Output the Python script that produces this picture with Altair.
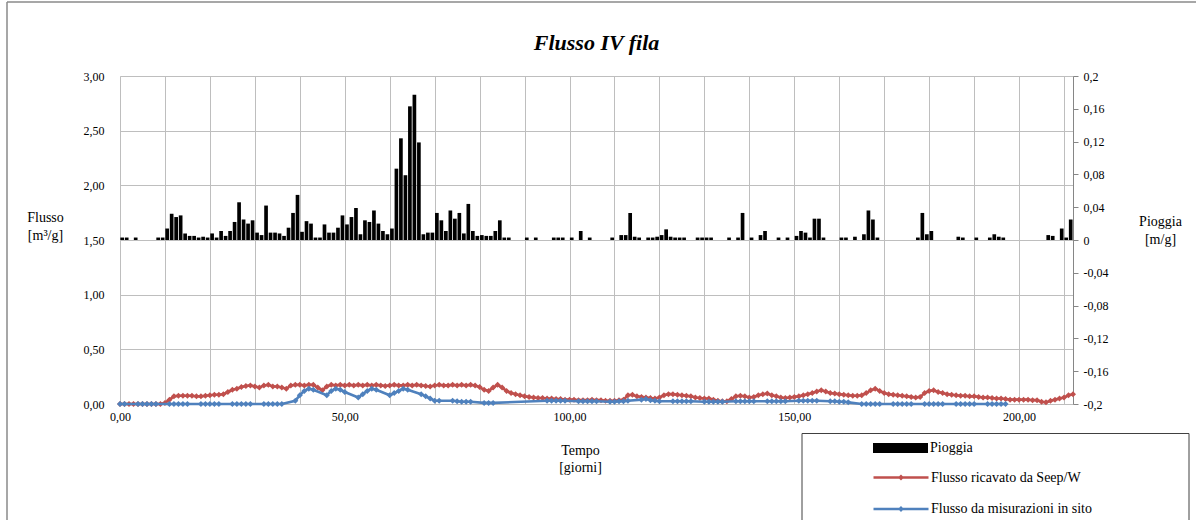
import altair as alt
import pandas as pd

TITLE = "Flusso IV fila"
NAME_RAIN = "Pioggia"
NAME_RED = "Flusso ricavato da Seep/W"
NAME_BLUE = "Flusso da misurazioni in sito"
RED = "#C0504D"
BLUE = "#4F81BD"
GRID = "#BEBEBE"
SERIF = "Liberation Serif, Times New Roman, DejaVu Serif, serif"

N = None
days = list(range(213))

# rain [m/g], one value per day (0..212)
rain = [
    0.003, 0.003, 0, 0.003, 0, 0, 0, 0, 0.003, 0.003,
    0.014, 0.032, 0.028, 0.030, 0.008, 0.005, 0.005, 0.003, 0.004, 0.003,
    0.008, 0.003, 0.011, 0.005, 0.011, 0.022, 0.046, 0.025, 0.020, 0.024,
    0.009, 0.006, 0.042, 0.009, 0.009, 0.008, 0.005, 0.015, 0.033, 0.055,
    0.010, 0.023, 0.020, 0.003, 0.003, 0.019, 0.009, 0.009, 0.015, 0.030,
    0.019, 0.028, 0.039, 0.007, 0.024, 0.022, 0.036, 0.020, 0.011, 0.007,
    0.014, 0.087, 0.124, 0.079, 0.163, 0.177, 0.119, 0.007, 0.009, 0.009,
    0.033, 0.024, 0.011, 0.036, 0.026, 0.033, 0.008, 0.044, 0.011, 0.005,
    0.006, 0.005, 0.005, 0.011, 0.024, 0.003, 0.003, 0, 0, 0,
    0.003, 0, 0.003, 0, 0, 0, 0.003, 0.003, 0.003, 0,
    0.003, 0, 0.011, 0, 0.003, 0, 0, 0, 0, 0.003,
    0, 0.006, 0.006, 0.033, 0.004, 0.003, 0, 0.003, 0.003, 0.004,
    0.006, 0.013, 0.004, 0.003, 0.003, 0.003, 0, 0, 0.003, 0.003,
    0.003, 0.003, 0, 0, 0, 0.003, 0, 0.003, 0.033, 0,
    0.003, 0, 0.006, 0.011, 0, 0, 0.003, 0, 0.003, 0,
    0.005, 0.011, 0.009, 0.003, 0.026, 0.026, 0.003, 0, 0, 0,
    0.003, 0.003, 0, 0.004, 0, 0.007, 0.036, 0.025, 0.003, 0,
    0, 0, 0, 0, 0, 0, 0, 0.003, 0.033, 0.007,
    0.011, 0, 0, 0, 0, 0, 0.004, 0.003, 0, 0,
    0.003, 0, 0, 0.003, 0.007, 0.004, 0.003, 0, 0, 0,
    0, 0, 0, 0, 0, 0, 0.006, 0.005, 0, 0.014,
    0.003, 0.025, 0,
]

# Flusso ricavato da Seep/W [m3/g]
red = [
    0, 0, 0, 0, 0, 0, 0, 0, 0, 0,
    0.01, 0.04, 0.07, 0.075, 0.075, 0.075, 0.075, 0.07, 0.07, 0.075,
    0.08, 0.085, 0.085, 0.09, 0.11, 0.13, 0.14, 0.155, 0.165, 0.17,
    0.16, 0.15, 0.17, 0.175, 0.16, 0.16, 0.15, 0.14, 0.17, 0.175,
    0.175, 0.17, 0.175, 0.175, 0.15, 0.125, 0.16, 0.175, 0.17, 0.175,
    0.17, 0.175, 0.17, 0.175, 0.17, 0.175, 0.17, 0.175, 0.17, 0.165,
    0.17, 0.175, 0.17, 0.17, 0.175, 0.17, 0.175, 0.17, 0.165, 0.16,
    0.17, 0.175, 0.17, 0.17, 0.175, 0.17, 0.175, 0.17, 0.175, 0.17,
    0.155, 0.13, 0.12, 0.15, 0.175, 0.15, 0.12, 0.1, 0.09, 0.08,
    0.07, 0.065, 0.06, 0.055, 0.055, 0.05, 0.05, 0.045, 0.045, 0.04,
    0.04, 0.04, 0.035, 0.035, 0.035, 0.04, 0.035, 0.035, 0.03, 0.03,
    0.03, 0.035, 0.04, 0.08, 0.085, 0.07, 0.065, 0.06, 0.055, 0.05,
    0.06, 0.08, 0.09, 0.09, 0.085, 0.08, 0.075, 0.07, 0.06, 0.055,
    0.05, 0.05, 0.04, 0.03, 0.025, 0.025, 0.045, 0.07, 0.075, 0.07,
    0.06, 0.065, 0.08, 0.09, 0.095, 0.08, 0.07, 0.06, 0.055, 0.06,
    0.065, 0.07, 0.08, 0.09, 0.1, 0.115, 0.125, 0.115, 0.1, 0.095,
    0.09, 0.085, 0.08, 0.075, 0.075, 0.08, 0.1, 0.125, 0.14, 0.12,
    0.1, 0.09, 0.085, 0.08, 0.075, 0.07, 0.065, 0.06, 0.065, 0.1,
    0.12, 0.125, 0.11, 0.1, 0.09, 0.085, 0.08, 0.075, 0.075, 0.07,
    0.07, 0.065, 0.06, 0.06, 0.055, 0.05, 0.05, 0.045, 0.04, 0.04,
    0.04, 0.04, 0.04, 0.035, 0.035, 0.02, 0.015, 0.03, 0.04, 0.05,
    0.06, 0.08, 0.09,
]

# Flusso da misurazioni in sito [m3/g] (None = no measurement that day)
blue = [
    0, 0, N, N, 0, 0, 0, 0, 0, N,
    N, 0, 0, 0, 0, 0, N, N, 0, 0,
    0, 0, 0, N, N, 0, 0, 0, 0, 0,
    N, N, 0, 0, 0, 0, 0, N, N, 0.03,
    0.08, 0.12, 0.14, 0.13, N, N, 0.08, 0.12, 0.14, 0.13,
    0.11, N, N, 0.06, 0.09, 0.12, 0.14, 0.13, N, N,
    0.08, 0.1, 0.12, 0.14, 0.13, N, N, 0.09, 0.07, 0.05,
    0.03, 0.03, N, N, 0.03, 0.025, 0.02, 0.02, 0.02, N,
    N, 0.01, 0.01, 0.01, N, N, N, N, N, N,
    N, N, N, N, N, 0.03, 0.03, 0.03, 0.03, 0.03,
    N, N, 0.025, 0.025, 0.025, 0.025, 0.025, N, N, 0.02,
    0.02, 0.025, 0.025, 0.03, N, N, 0.04, 0.045, 0.035, 0.03,
    0.025, N, N, 0.025, 0.025, 0.025, 0.025, 0.025, N, N,
    0.02, 0.02, 0.02, 0.02, 0.02, N, N, 0.025, 0.025, 0.025,
    0.025, 0.025, N, N, 0.025, 0.025, 0.025, 0.025, 0.025, N,
    N, 0.03, 0.03, 0.03, 0.03, 0.03, N, N, 0.025, 0.025,
    0.02, 0.02, 0.015, N, N, 0, 0, 0, 0, 0,
    N, N, 0, 0, 0, 0, 0, N, N, 0,
    0, 0, 0, 0, N, N, 0, 0, 0, 0,
    0, N, N, 0, 0, 0, 0, 0, N, N,
    N, N, N, N, N, N, N, N, N, N,
    N, N, N,
]

X_GRID = [0, 10, 20, 30, 40, 50, 60, 70, 80, 90, 100, 110, 120, 130, 140,
          150, 160, 170, 180, 190, 200, 210]
X_DOMAIN = [0, 212]
Y_LEFT_TICKS = [0, 0.5, 1, 1.5, 2, 2.5, 3]
Y_RIGHT_TICKS = [-0.2, -0.16, -0.12, -0.08, -0.04, 0, 0.04, 0.08, 0.12, 0.16, 0.2]

df_rain = pd.DataFrame({"giorno": days, "pioggia": rain, "serie": NAME_RAIN})
df_rain = df_rain[df_rain["pioggia"] > 0]
df_red = pd.DataFrame({"giorno": days, "flusso": red, "serie": NAME_RED})
df_blue = pd.DataFrame({"giorno": days, "flusso": blue, "serie": NAME_BLUE}).dropna()

xscale = alt.Scale(domain=X_DOMAIN, nice=False, zero=False)
xaxis = alt.Axis(
    values=X_GRID,
    labelExpr="datum.value % 50 == 0 ? replace(format(datum.value, '.2f'), '.', ',') : ''",
    title=["Tempo", "[giorni]"], titleX=460, titleY=39, titleAlign="center",
    titleBaseline="top", titleAngle=0, titleFont=SERIF, titleFontSize=14,
    titleFontWeight="normal", titleLineHeight=17, titleColor="black",
    labelFont=SERIF, labelFontSize=12, labelPadding=7, labelOverlap=False,
    labelFlush=False, labelColor="black", ticks=False, domain=False,
    grid=True, gridColor=GRID, gridWidth=1,
)
yleft = alt.Axis(
    orient="left", values=Y_LEFT_TICKS,
    labelExpr="replace(format(datum.value, '.2f'), '.', ',')",
    title=["Flusso", "[m³/g]"], titleAngle=0, titleX=-75, titleY=134,
    titleAlign="center", titleBaseline="top", titleFont=SERIF, titleFontSize=14,
    titleFontWeight="normal", titleLineHeight=18, titleColor="black",
    labelFont=SERIF, labelFontSize=12, labelPadding=16, labelColor="black",
    labelOverlap=False, ticks=False, domain=False,
    grid=True, gridColor=GRID, gridWidth=1,
)
yright = alt.Axis(
    orient="right", values=Y_RIGHT_TICKS,
    labelExpr="replace(replace(format(datum.value, '.2~f'), '.', ','), '\u2212', '-')",
    title=["Pioggia", "[m/g]"], titleAngle=0, titleX=87, titleY=138,
    titleAlign="center", titleBaseline="top", titleFont=SERIF, titleFontSize=14,
    titleFontWeight="normal", titleLineHeight=18, titleColor="black",
    labelFont=SERIF, labelFontSize=12, labelPadding=5, labelColor="black",
    labelOverlap=False, ticks=True, tickSize=5, tickColor="#868686",
    domain=True, domainColor="#868686", domainWidth=1, grid=False,
)

leg_fill = alt.Legend(
    title=None, orient="none", legendX=770.5, legendY=362, padding=0,
    symbolType="M-2.75,-0.5H2.75V0.5H-2.75Z", symbolSize=400,
    symbolStrokeWidth=0, labelFont=SERIF, labelFontSize=14, labelColor="black",
    labelOffset=19.5, labelLimit=0,
)
leg_stroke = alt.Legend(
    title=None, orient="none", legendX=769.5, legendY=390, padding=0,
    symbolType="M-2.75,0H2.75M-0.12,0L0,-0.12L0.12,0L0,0.12Z", symbolSize=400,
    symbolStrokeWidth=2.5, labelFont=SERIF, labelFontSize=14, labelColor="black",
    labelOffset=18.5, rowPadding=12.5, labelLimit=0,
)

bars = alt.Chart(df_rain).transform_calculate(
    g0="datum.giorno + 0.08", g1="datum.giorno + 0.9"
).mark_rect(opacity=1).encode(
    x=alt.X("g0:Q", scale=xscale, axis=xaxis),
    x2="g1:Q",
    y=alt.Y("pioggia:Q", scale=alt.Scale(domain=[-0.2, 0.2], nice=False, zero=True), axis=yright),
    y2=alt.datum(0),
    fill=alt.Fill("serie:N", scale=alt.Scale(domain=[NAME_RAIN], range=["black"]), legend=leg_fill),
)

yscale_l = alt.Scale(domain=[0, 3], nice=False)
stroke_scale = alt.Scale(domain=[NAME_RED, NAME_BLUE], range=[RED, BLUE])


def line_layer(df, color):
    ln = alt.Chart(df).mark_line(strokeWidth=2.6).encode(
        x=alt.X("giorno:Q", scale=xscale, axis=xaxis),
        y=alt.Y("flusso:Q", scale=yscale_l, axis=yleft),
        stroke=alt.Stroke("serie:N", scale=stroke_scale, legend=leg_stroke),
    )
    pt = alt.Chart(df).mark_point(shape="diamond", filled=True, size=36, opacity=1, color=color).encode(
        x=alt.X("giorno:Q", scale=xscale, axis=xaxis),
        y=alt.Y("flusso:Q", scale=yscale_l, axis=yleft),
    )
    return [ln, pt]


lines = alt.layer(*line_layer(df_red, RED), *line_layer(df_blue, BLUE))

main = alt.layer(bars, lines).resolve_scale(y="independent")

deco = pd.DataFrame({"k": [0]})
frame_top = alt.Chart(deco).mark_rule(stroke="#8A8A8A", strokeWidth=1.5).encode(
    x=alt.value(-113), x2=alt.value(1090), y=alt.value(-74)
)
frame_left = alt.Chart(deco).mark_rule(stroke="#8A8A8A", strokeWidth=1.5).encode(
    x=alt.value(-113), y=alt.value(-74), y2=alt.value(460)
)
legend_box = alt.Chart(deco).mark_rect(filled=False, stroke="#404040", strokeWidth=1).encode(
    x=alt.value(682), x2=alt.value(1069), y=alt.value(357.5), y2=alt.value(470)
)

chart = alt.layer(main, frame_top, frame_left, legend_box).properties(
    width=953, height=328,
    autosize=alt.AutoSizeParams(type="none"),
    padding={"left": 120, "top": 76, "right": 123, "bottom": 116},
    title=alt.TitleParams(TITLE, font=SERIF, fontSize=22, fontWeight="bold",
                          fontStyle="italic", anchor="middle", frame="group",
                          baseline="alphabetic", offset=0, dy=71, color="black"),
).configure_view(stroke=None).configure(background="white")

chart.save("out.html", embed_options={"renderer": "svg", "actions": False})
